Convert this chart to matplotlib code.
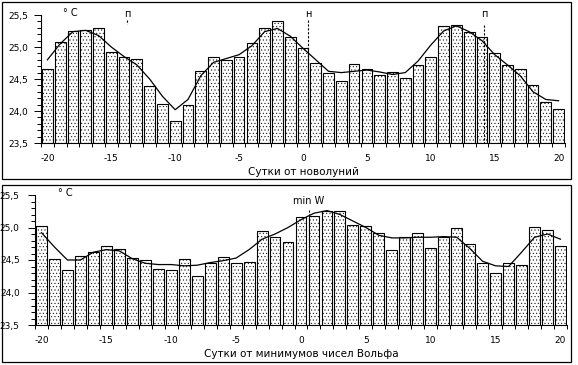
import matplotlib
matplotlib.use('Agg')
import matplotlib.pyplot as plt
from matplotlib.patches import Rectangle
from matplotlib.ticker import MultipleLocator

### data

days = list(range(-20, 21))

# upper panel: days from new moon
moon_temp = [24.65, 25.08, 25.25, 25.26, 25.29, 24.92, 24.85, 24.82, 24.39, 24.11,
             23.85, 24.09, 24.63, 24.84, 24.79, 24.84, 25.06, 25.29, 25.41, 25.15,
             24.98, 24.75, 24.59, 24.47, 24.73, 24.65, 24.56, 24.61, 24.51, 24.72,
             24.85, 25.33, 25.35, 25.23, 25.15, 24.90, 24.72, 24.65, 24.40, 24.14,
             24.03]
moon_smooth = [24.80, 25.05, 25.24, 25.26, 25.18, 25.00, 24.85, 24.72, 24.50, 24.23,
               24.02, 24.18, 24.55, 24.76, 24.82, 24.88, 25.02, 25.24, 25.29, 25.17,
               24.98, 24.80, 24.62, 24.60, 24.62, 24.64, 24.61, 24.57, 24.60, 24.78,
               25.03, 25.25, 25.33, 25.24, 25.10, 24.88, 24.72, 24.55, 24.30, 24.18,
               24.16]

# lower panel: days from Wolf number minima
wolf_temp = [25.02, 24.52, 24.34, 24.56, 24.63, 24.71, 24.67, 24.53, 24.50, 24.36,
             24.34, 24.52, 24.25, 24.46, 24.54, 24.46, 24.47, 24.94, 24.86, 24.77,
             25.16, 25.18, 25.26, 25.26, 25.04, 25.03, 24.91, 24.65, 24.86, 24.92,
             24.69, 24.85, 24.99, 24.74, 24.46, 24.30, 24.45, 24.43, 25.01, 24.96,
             24.72]
wolf_smooth = [24.92, 24.70, 24.50, 24.50, 24.62, 24.66, 24.64, 24.52, 24.45, 24.43,
               24.43, 24.41, 24.42, 24.46, 24.49, 24.53, 24.66, 24.82, 24.90, 25.00,
               25.12, 25.22, 25.26, 25.20, 25.10, 25.00, 24.88, 24.84, 24.84, 24.85,
               24.85, 24.86, 24.85, 24.68, 24.48, 24.41, 24.40, 24.62, 24.85, 24.90,
               24.82]

y_ticks = [23.5, 24.0, 24.5, 25.0, 25.5]
y_labels = ['23,5', '24,0', '24,5', '25,0', '25,5']
x_ticks = [-20, -15, -10, -5, 0, 5, 10, 15, 20]
x_labels = ['-20', '-15', '-10', '-5', '0', '5', '10', '15', '20']

# markers: (label, x position, top of the dotted line, bottom of the dotted line)
moon_marks = [('п', -13.77, 25.42, 25.36), ('н', 0.4, 25.42, 23.5), ('п', 14.16, 25.34, 23.5)]
wolf_marks = [('min W', 0.61, 25.27, 23.5)]

plt.rcParams['font.family'] = ['DejaVu Sans']
plt.rcParams['hatch.linewidth'] = 0.35
plt.rcParams['hatch.color'] = '#333333'

W, H = 578, 365
fig = plt.figure(figsize=(W / 100, H / 100), dpi=100)


def draw_panel(left, right, top, bottom, temps, smooth, xlabel, marks, label_pad, mark_y):
  ax = fig.add_axes([left / W, (H - bottom) / H, (right - left) / W, (bottom - top) / H])
  ax.bar(days, temps, width=0.84, color='white', edgecolor='black',
         linewidth=0.8, hatch='.....')
  ax.plot(days, smooth, color='black', linewidth=0.9)

  ax.set_xlim(-20.5, 20.5)
  ax.set_ylim(23.5, 25.5)
  for s in ['top', 'right']:
    ax.spines[s].set_visible(False)
  for s in ['left', 'bottom']:
    ax.spines[s].set_linewidth(0.8)

  ax.set_xticks(x_ticks)
  ax.set_xticklabels(x_labels)
  ax.xaxis.set_minor_locator(MultipleLocator(1, offset=0.5))
  ax.tick_params(axis='x', which='major', length=0, pad=8, labelsize=6.5)
  ax.tick_params(axis='x', which='minor', length=3, width=0.7)

  ax.set_yticks(y_ticks)
  ax.set_yticklabels(y_labels)
  ax.yaxis.set_minor_locator(MultipleLocator(0.1))
  ax.tick_params(axis='y', which='major', length=5, width=0.7, pad=label_pad, labelsize=6.5)
  ax.tick_params(axis='y', which='minor', length=3, width=0.7)

  ax.set_xlabel(xlabel, fontsize=7.5, labelpad=3)

  ax.text(-18.2, 25.53, '° C', fontsize=7, ha='center', va='center', clip_on=False)
  for label, x, y_top, y_bot in marks:
    ax.text(x, mark_y, label, fontsize=7, ha='center', va='center', clip_on=False)
    ax.plot([x, x], [y_top, y_bot], color='black', linewidth=0.8,
            linestyle=(0, (2, 1.5)), clip_on=False)
  return ax


draw_panel(41, 565, 15, 143, moon_temp, moon_smooth, 'Сутки от новолуний',
           moon_marks, 4.5, 25.52)
draw_panel(35, 567, 195, 325, wolf_temp, wolf_smooth, 'Сутки от минимумов чисел Вольфа',
           wolf_marks, 6, 25.4)

# frames round the two panels
fig.patches.append(Rectangle((2 / W, (H - 179) / H), 569 / W, 177 / H, transform=fig.transFigure,
                             fill=False, edgecolor='black', linewidth=0.9))
fig.patches.append(Rectangle((2 / W, (H - 362) / H), 569 / W, 177 / H, transform=fig.transFigure,
                             fill=False, edgecolor='black', linewidth=0.9))

fig.savefig('out.png', dpi=100)
plt.close()
